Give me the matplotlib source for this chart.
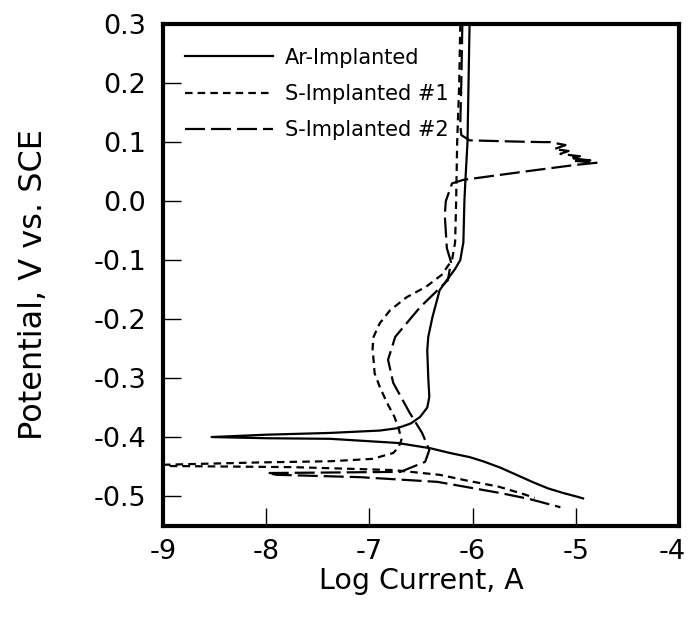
import matplotlib
matplotlib.use('Agg')
import matplotlib.pyplot as plt
import matplotlib.transforms as mtransforms

plt.rcParams['axes.unicode_minus'] = False
plt.rcParams['font.family'] = ['DejaVu Sans']

# Ar-Implanted (solid)
ar_x = [-6.03, -6.04, -6.05, -6.07, -6.08, -6.09, -6.12, -6.17, -6.25, -6.32, -6.39,
        -6.43, -6.44, -6.43, -6.42, -6.44, -6.51, -6.60, -6.73, -6.90, -7.38, -8.00,
        -8.53, -8.00, -7.38, -6.73, -6.41, -6.22, -6.03, -5.90, -5.73, -5.55, -5.41,
        -5.27, -5.12, -4.99, -4.93]
ar_y = [0.30, 0.20, 0.10, 0.036, 0.0, -0.07, -0.10, -0.115, -0.134, -0.151, -0.197,
        -0.23, -0.253, -0.30, -0.332, -0.35, -0.366, -0.377, -0.385, -0.389, -0.393, -0.396,
        -0.400, -0.402, -0.403, -0.410, -0.419, -0.427, -0.434, -0.441, -0.452, -0.466, -0.477,
        -0.487, -0.495, -0.501, -0.504]

# S-Implanted #1 (short dash)
s1_x = [-6.12, -6.13, -6.15, -6.16, -6.17, -6.20, -6.30, -6.45, -6.64, -6.80, -6.90,
        -6.96, -6.97, -6.96, -6.95, -6.90, -6.83, -6.76, -6.72, -6.69, -6.72, -6.77,
        -6.97, -7.38, -8.06, -9.00, -9.30, -9.00, -7.74, -6.77, -6.32, -6.05, -5.75,
        -5.52, -5.40]
s1_y = [0.30, 0.20, 0.10, 0.0, -0.07, -0.10, -0.125, -0.145, -0.163, -0.185, -0.207,
        -0.23, -0.25, -0.27, -0.292, -0.315, -0.342, -0.365, -0.383, -0.405, -0.418, -0.427,
        -0.437, -0.441, -0.443, -0.447, -0.448, -0.449, -0.451, -0.456, -0.464, -0.474, -0.484,
        -0.496, -0.503]

# S-Implanted #2 (long dash)
s2_x = [-6.10, -6.11, -6.12, -6.11, -6.03, -5.60, -5.32, -5.25, -5.10, -5.21, -5.07,
        -5.15, -4.96, -5.06, -4.86, -5.00, -4.80, -5.02, -5.50, -6.09, -6.20, -6.26,
        -6.27, -6.25, -6.21, -6.24, -6.51, -6.75, -6.82, -6.77, -6.61, -6.49, -6.42,
        -6.46, -6.70, -7.30, -7.99, -7.90, -7.09, -6.34, -6.05, -5.73, -5.45, -5.15]
s2_y = [0.30, 0.20, 0.13, 0.112, 0.103, 0.101, 0.100, 0.100, 0.095, 0.088, 0.085,
        0.080, 0.076, 0.073, 0.069, 0.068, 0.065, 0.061, 0.050, 0.036, 0.030, 0.0,
        -0.024, -0.08, -0.103, -0.134, -0.18, -0.23, -0.269, -0.308, -0.359, -0.393, -0.422,
        -0.442, -0.459, -0.460, -0.461, -0.464, -0.468, -0.476, -0.485, -0.495, -0.505, -0.519]

x_ticks = [-9, -8, -7, -6, -5, -4]
y_ticks = [-0.5, -0.4, -0.3, -0.2, -0.1, 0.0, 0.1, 0.2, 0.3]

fig = plt.figure(figsize=(6.91, 6.19), dpi=100)
ax = fig.add_axes([0.236, 0.151, 0.7467, 0.810])

ax.plot(ar_x, ar_y, color='black', lw=1.6, label='Ar-Implanted')
ax.plot(s1_x, s1_y, color='black', lw=1.6, dashes=(3.4, 2.3), label='S-Implanted #1')
ax.plot(s2_x, s2_y, color='black', lw=1.6, dashes=(9.0, 2.7), label='S-Implanted #2')

ax.set_xlim(-9, -4)
ax.set_ylim(-0.55, 0.3)
ax.set_xticks(x_ticks)
ax.set_xticklabels(['%d' % v for v in x_ticks])
ax.set_yticks(y_ticks)
ax.set_yticklabels(['%.1f' % v for v in y_ticks])
ax.tick_params(direction='in', length=13, width=1, labelsize=19.5,
               top=False, right=False)
ax.tick_params(axis='x', pad=10)
ax.tick_params(axis='y', pad=12)
for s in ax.spines.values():
    s.set_linewidth(3)

# nudge the last x label a little left so it stays inside the figure
last = ax.get_xticklabels()[-1]
last.set_transform(last.get_transform() +
                   mtransforms.ScaledTranslation(-5 / 72, 0, fig.dpi_scale_trans))

ax.set_xlabel('Log Current, A', fontsize=20.5, labelpad=1)
ax.set_ylabel('Potential, V vs. SCE', fontsize=23)
ax.yaxis.set_label_coords(-0.222, 0.48)

ax.legend(loc='upper left', bbox_to_anchor=(0.043, 0.953), frameon=False,
          fontsize=15, handlelength=4.2, handletextpad=0.6, labelspacing=0.78,
          borderpad=0, borderaxespad=0)

fig.savefig('out.png', dpi=100)
